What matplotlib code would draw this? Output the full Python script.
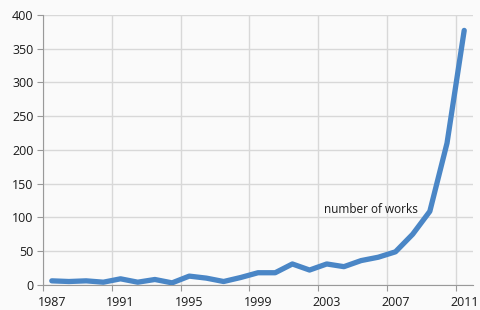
import matplotlib.pyplot as plt
import numpy as np

years = np.arange(1987, 2012)
works = [6, 5, 6, 4, 9, 4, 8, 3, 13, 10, 5, 11, 18, 18, 31, 22, 31, 27,
         36, 41, 49, 75, 109, 210, 377]
tick_years = [1987, 1991, 1995, 1999, 2003, 2007, 2011]
y_ticks = [0, 50, 100, 150, 200, 250, 300, 350, 400]

plt.rcParams['font.family'] = ['Open Sans', 'DejaVu Sans']

fig = plt.figure(figsize=(4.8, 3.1), dpi=100, facecolor='#fafafa')
ax = fig.add_axes([0.09, 0.081, 0.895, 0.871])
ax.set_facecolor('#fafafa')

ax.plot(years, works, color='#4a86c6', linewidth=3.8, solid_joinstyle='round',
        solid_capstyle='round', zorder=3)

ax.set_xlim(1986.5, 2011.5)
ax.set_ylim(0, 400)

# gridlines sit on category boundaries, labels on category centres
ax.set_xticks([y - 0.5 for y in tick_years])
ax.set_xticklabels([])
ax.set_xticks(tick_years, minor=True)
ax.set_xticklabels([str(y) for y in tick_years], minor=True)
ax.tick_params(axis='x', which='minor', length=0, pad=8)
ax.tick_params(axis='x', which='major', length=4, color='#999999', direction='out')
ax.set_yticks(y_ticks)
ax.tick_params(axis='y', length=4, color='#999999', pad=3)
ax.tick_params(axis='both', which='both', labelsize=9, labelcolor='#1a1a1a')

ax.grid(True, which='major', color='#d8d8d8', linewidth=1)
ax.set_axisbelow(True)
for s in ['top', 'right']:
    ax.spines[s].set_visible(False)
for s in ['left', 'bottom']:
    ax.spines[s].set_color('#999999')

ax.text(2005.6, 112, 'number of works', fontsize=8.5, color='#1a1a1a',
        ha='center', va='center')

fig.savefig('out.png', dpi=100, facecolor=fig.get_facecolor())
